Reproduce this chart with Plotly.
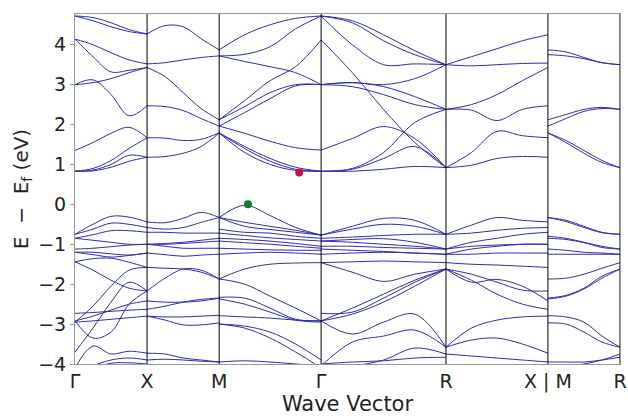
import numpy as np
import plotly.graph_objects as go

# High-symmetry path (distances in units of the Γ-X length, cubic lattice)
K_LABELS = ["Γ", "X", "M", "Γ", "R", "X | M", "R"]
SEG_LENGTHS = [1.0, 1.0, np.sqrt(2), np.sqrt(3), np.sqrt(2), 1.0]
K_TICKS = list(np.concatenate([[0.0], np.cumsum(SEG_LENGTHS)]))

# Band energies (eV, relative to E_f) sampled at 5 equally spaced points per segment
GX_COND = [
    [4.72, 4.68, 4.55, 4.38, 4.27],
    [4.72, 4.60, 4.45, 4.33, 4.27],
    [4.14, 4.00, 3.80, 3.62, 3.52],
    [4.14, 3.70, 3.32, 3.36, 3.43],
    [3.00, 3.05, 3.15, 3.30, 3.43],
    [3.00, 3.12, 2.75, 2.22, 2.47],
    [1.35, 1.55, 1.78, 1.93, 1.67],
    [0.83, 0.90, 1.10, 1.40, 1.67],
    [0.83, 0.86, 1.00, 1.23, 1.18],
    [0.83, 0.84, 0.93, 1.08, 1.18],
]
GX_VAL = [
    [-0.75, -0.50, -0.30, -0.32, -0.44],
    [-0.75, -0.62, -0.47, -0.50, -0.58],
    [-0.85, -0.76, -0.66, -0.66, -0.70],
    [-0.85, -0.90, -0.95, -1.00, -1.00],
    [-1.12, -1.10, -1.06, -1.02, -1.00],
    [-1.20, -1.20, -1.24, -1.27, -1.22],
    [-1.20, -1.26, -1.32, -1.28, -1.22],
    [-1.44, -1.36, -1.35, -1.45, -1.58],
    [-1.44, -1.65, -1.90, -2.10, -2.17],
    [-2.92, -3.35, -3.20, -2.50, -2.17],
    [-2.95, -2.55, -2.05, -1.65, -1.58],
    [-3.70, -3.10, -2.45, -1.95, -2.17],
    [-2.73, -2.71, -2.68, -2.65, -2.63],
    [-2.92, -2.80, -2.65, -2.50, -2.42],
    [-2.95, -2.92, -2.88, -2.84, -2.80],
    [-4.10, -3.55, -3.75, -3.68, -3.73],
    [-4.30, -4.05, -3.90, -3.85, -3.90],
    [-4.20, -4.10, -3.98, -3.97, -4.00],
]
XM_COND = [
    [4.27, 4.48, 4.45, 4.15, 3.87],
    [3.52, 3.55, 3.62, 3.68, 3.72],
    [3.43, 3.20, 2.80, 2.40, 2.12],
    [2.47, 2.45, 2.35, 2.15, 1.96],
    [1.67, 1.66, 1.60, 1.63, 1.79],
    [1.18, 1.20, 1.28, 1.45, 1.79],
]
XM_VAL = [
    [-0.44, -0.46, -0.35, -0.20, -0.33],
    [-0.58, -0.62, -0.58, -0.45, -0.33],
    [-0.70, -0.70, -0.72, -0.72, -0.72],
    [-1.00, -0.98, -0.95, -0.90, -0.85],
    [-1.00, -1.00, -0.98, -0.95, -0.92],
    [-1.00, -1.05, -1.10, -1.10, -1.10],
    [-1.22, -1.26, -1.30, -1.27, -1.25],
    [-1.58, -1.60, -1.62, -1.70, -1.87],
    [-2.17, -1.85, -1.62, -1.65, -1.87],
    [-2.42, -2.45, -2.45, -2.42, -2.35],
    [-2.63, -2.55, -2.45, -2.38, -2.35],
    [-2.80, -2.82, -2.82, -2.80, -2.78],
    [-2.80, -2.90, -3.02, -3.02, -2.97],
    [-3.73, -3.75, -3.85, -3.90, -3.95],
    [-3.90, -3.88, -3.90, -3.93, -3.95],
]
MG_COND = [
    [3.87, 4.25, 4.50, 4.66, 4.72],
    [3.72, 3.76, 3.95, 4.40, 4.72],
    [3.72, 3.58, 3.45, 3.30, 3.00],
    [2.12, 2.60, 3.10, 3.45, 4.12],
    [2.12, 2.45, 2.80, 3.00, 3.00],
    [1.96, 2.30, 2.65, 2.97, 3.00],
    [1.96, 1.78, 1.58, 1.42, 1.36],
    [1.79, 1.45, 1.15, 0.93, 0.83],
    [1.79, 1.40, 1.08, 0.88, 0.83],
    [1.79, 1.30, 1.00, 0.85, 0.83],
]
MG_VAL = [
    [-0.33, -0.02, -0.28, -0.58, -0.77],
    [-0.33, -0.45, -0.55, -0.65, -0.77],
    [-0.33, -0.55, -0.63, -0.70, -0.77],
    [-0.62, -0.70, -0.72, -0.80, -0.85],
    [-0.72, -0.78, -0.84, -0.88, -0.92],
    [-0.85, -0.88, -0.92, -0.98, -1.05],
    [-0.92, -0.96, -1.00, -1.05, -1.10],
    [-1.10, -1.12, -1.14, -1.15, -1.15],
    [-1.25, -1.22, -1.20, -1.22, -1.25],
    [-1.87, -1.62, -1.50, -1.47, -1.46],
    [-1.87, -2.00, -2.30, -2.60, -2.92],
    [-2.33, -2.35, -2.60, -2.88, -2.92],
    [-2.37, -2.50, -2.70, -2.90, -2.95],
    [-2.79, -2.82, -2.85, -2.90, -2.92],
    [-3.00, -3.10, -3.35, -3.70, -4.10],
    [-3.00, -3.05, -3.20, -3.50, -3.90],
    [-3.95, -3.92, -3.95, -4.00, -4.05],
]
GR_COND = [
    [4.72, 4.60, 4.25, 3.85, 3.50],
    [4.72, 4.55, 4.10, 3.75, 3.50],
    [4.72, 4.00, 3.50, 3.52, 3.50],
    [4.12, 3.30, 2.38, 1.55, 0.92],
    [3.00, 3.05, 2.95, 2.70, 2.38],
    [3.00, 2.95, 2.75, 2.50, 2.38],
    [3.00, 3.05, 3.00, 3.15, 3.50],
    [1.36, 1.65, 1.95, 1.65, 0.92],
    [0.83, 0.90, 1.30, 2.05, 2.38],
    [0.83, 0.88, 1.15, 1.45, 0.92],
    [0.83, 0.83, 0.88, 0.95, 0.92],
]
GR_VAL = [
    [-0.77, -0.55, -0.35, -0.40, -0.75],
    [-0.77, -0.62, -0.50, -0.55, -0.75],
    [-0.85, -0.82, -0.78, -0.75, -0.75],
    [-0.92, -0.95, -1.00, -1.05, -1.12],
    [-0.92, -0.88, -0.86, -0.95, -1.12],
    [-1.05, -1.05, -1.08, -1.10, -1.12],
    [-1.12, -1.15, -1.18, -1.22, -1.25],
    [-1.25, -1.22, -1.20, -1.22, -1.25],
    [-1.46, -1.44, -1.42, -1.44, -1.46],
    [-1.46, -1.70, -1.93, -1.75, -1.62],
    [-2.73, -2.70, -2.35, -1.95, -1.62],
    [-2.92, -2.60, -2.25, -1.90, -1.62],
    [-2.92, -2.75, -2.45, -2.05, -1.62],
    [-2.92, -3.25, -2.95, -2.75, -3.58],
    [-4.05, -3.45, -3.30, -3.15, -3.58],
    [-4.10, -4.05, -3.90, -3.60, -3.75],
    [-4.00, -3.95, -3.92, -3.85, -3.83],
]
RX_COND = [
    [3.50, 3.70, 3.90, 4.10, 4.25],
    [3.50, 3.47, 3.50, 3.53, 3.54],
    [2.38, 2.50, 2.75, 3.10, 3.43],
    [2.38, 2.36, 2.10, 2.38, 2.47],
    [0.92, 1.30, 1.83, 1.72, 1.67],
    [0.92, 0.98, 1.15, 1.20, 1.18],
]
RX_VAL = [
    [-0.75, -0.52, -0.33, -0.40, -0.44],
    [-0.75, -0.72, -0.65, -0.60, -0.58],
    [-1.12, -0.95, -0.85, -0.75, -0.70],
    [-1.12, -1.05, -1.02, -1.00, -1.00],
    [-1.25, -1.12, -1.05, -1.00, -1.00],
    [-1.25, -1.25, -1.22, -1.22, -1.22],
    [-1.46, -1.50, -1.52, -1.55, -1.58],
    [-1.62, -1.95, -1.88, -2.05, -2.42],
    [-1.62, -1.90, -2.25, -2.50, -2.63],
    [-1.62, -1.75, -1.95, -2.15, -2.17],
    [-3.58, -3.10, -2.90, -2.82, -2.80],
    [-3.58, -3.40, -3.35, -3.50, -3.73],
    [-3.75, -3.80, -3.85, -3.90, -3.95],
]
MR_COND = [
    [3.87, 3.82, 3.68, 3.55, 3.50],
    [3.75, 3.72, 3.65, 3.55, 3.50],
    [2.12, 2.25, 2.38, 2.43, 2.38],
    [1.96, 2.15, 2.33, 2.40, 2.38],
    [1.79, 1.60, 1.35, 1.10, 0.92],
    [1.79, 1.55, 1.28, 1.05, 0.92],
]
MR_VAL = [
    [-0.33, -0.40, -0.55, -0.70, -0.75],
    [-0.33, -0.43, -0.58, -0.71, -0.75],
    [-0.80, -0.85, -0.95, -1.05, -1.12],
    [-0.85, -0.88, -0.96, -1.08, -1.12],
    [-1.12, -1.15, -1.20, -1.22, -1.25],
    [-1.25, -1.25, -1.25, -1.25, -1.25],
    [-1.87, -1.85, -1.75, -1.60, -1.46],
    [-2.35, -2.28, -2.10, -1.80, -1.62],
    [-2.37, -2.30, -2.12, -1.85, -1.62],
    [-2.79, -2.82, -2.95, -3.30, -3.58],
    [-2.97, -3.00, -3.20, -3.45, -3.58],
    [-3.95, -3.95, -3.95, -3.90, -3.83],
    [-4.10, -4.05, -4.00, -3.90, -3.75],
]

SEGMENTS = [
    (GX_COND + GX_VAL),
    (XM_COND + XM_VAL),
    (MG_COND + MG_VAL),
    (GR_COND + GR_VAL),
    (RX_COND + RX_VAL),
    (MR_COND + MR_VAL),
]

# Band edges (k-path position, energy)
VBM_K, VBM_E = [2.40], [0.0]
CBM_K, CBM_E = [3.11], [0.80]

BAND_COLOR = "rgb(45,45,175)"

fig = go.Figure()
for i, bands in enumerate(SEGMENTS):
    k0, k1 = K_TICKS[i], K_TICKS[i + 1]
    xs, ys = [], []
    for band in bands:
        kk = np.linspace(k0, k1, len(band))
        xs += list(kk) + [None]
        ys += list(band) + [None]
    fig.add_trace(go.Scatter(
        x=xs, y=ys, mode="lines",
        line=dict(color=BAND_COLOR, width=1, shape="spline", smoothing=1.0),
        connectgaps=False, hoverinfo="skip"))

fig.add_trace(go.Scatter(x=VBM_K, y=VBM_E, mode="markers",
                         marker=dict(color="#127a2e", size=8)))
fig.add_trace(go.Scatter(x=CBM_K, y=CBM_E, mode="markers",
                         marker=dict(color="#cc1040", size=8)))

for kx in K_TICKS[1:]:
    fig.add_shape(type="line", xref="x", yref="paper", x0=kx, x1=kx, y0=0, y1=1,
                  line=dict(color="black", width=1))

FONT = "DejaVu Sans"
fig.update_layout(
    width=628, height=416,
    margin=dict(l=75, r=8, t=14, b=52, autoexpand=False),
    plot_bgcolor="white", paper_bgcolor="white",
    showlegend=False,
    font=dict(family=FONT, size=19, color="#222222"),
    xaxis=dict(range=[0, K_TICKS[-1]], tickvals=K_TICKS, ticktext=K_LABELS,
               showgrid=False, zeroline=False, showline=True, mirror=True,
               linecolor="#999999", linewidth=1, ticks="", automargin=False,
               tickfont=dict(size=19),
               title=dict(text="Wave Vector", font=dict(size=21), standoff=2)),
    yaxis=dict(range=[-4, 4.77], tickvals=[-4, -3, -2, -1, 0, 1, 2, 3, 4],
               showgrid=False, zeroline=False, showline=True, mirror=True,
               linecolor="#999999", linewidth=1, ticks="outside", ticklen=4,
               tickcolor="#999999", tickfont=dict(size=19), automargin=False,
               title=dict(text="E  −  E<sub>f</sub> (eV)", font=dict(size=20), standoff=4)),
)

fig.write_html("out.html", config={"displayModeBar": False},
               post_script="document.body.style.margin='0px';")
